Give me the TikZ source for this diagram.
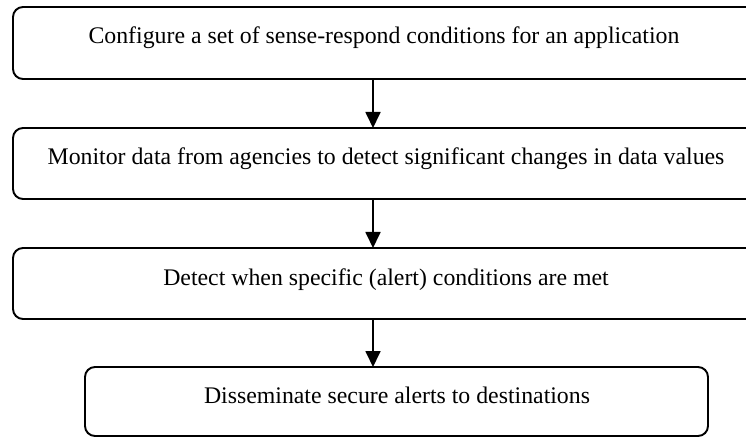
\documentclass[tikz,border=0pt]{standalone}
\usepackage{fontspec}
\setmainfont{Liberation Serif}
\usetikzlibrary{arrows.meta}
\begin{document}
\begin{tikzpicture}[x=1pt,y=-1pt,
  stepbox/.style={draw=black,line width=1.9pt,rounded corners=10pt},
  steplabel/.style={font=\fontsize{23.8}{26}\selectfont,anchor=base,inner sep=0pt},
  flow/.style={line width=1.8pt,-{Triangle[width=15pt,length=16pt]}}]
\useasboundingbox (0,0) rectangle (746,438);
\clip (0,0) rectangle (746,438);
% process boxes (the upper three run past the right border)
\draw[stepbox] (13,7) rectangle (800,79);
\draw[stepbox] (13,128) rectangle (800,199);
\draw[stepbox] (13,248) rectangle (800,319);
\draw[stepbox] (85,367) rectangle (708,436);
% named anchors for the connectors
\coordinate (b1s) at (373,79);
\coordinate (b2n) at (373,128);
\coordinate (b2s) at (373,199);
\coordinate (b3n) at (373,248);
\coordinate (b3s) at (373,319);
\coordinate (b4n) at (373,367);
\node[steplabel] (t1) at (384,44) {Configure a set of sense-respond conditions for an application};
\node[steplabel] (t2) at (386,165) {Monitor data from agencies to detect significant changes in data values};
\node[steplabel] (t3) at (386,285) {Detect when specific (alert) conditions are met};
\node[steplabel] (t4) at (397,403) {Disseminate secure alerts to destinations};
\draw[flow] (b1s) -- (b2n);
\draw[flow] (b2s) -- (b3n);
\draw[flow] (b3s) -- (b4n);
\end{tikzpicture}
\end{document}
